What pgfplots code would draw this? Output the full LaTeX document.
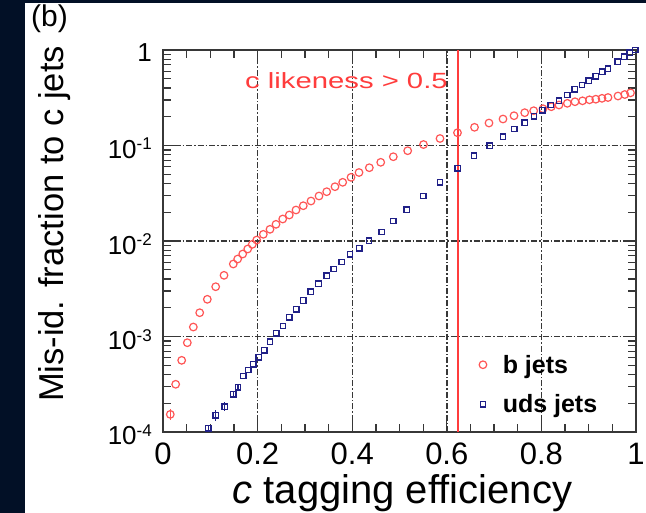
\documentclass[border=0pt]{standalone}
\usepackage{fontspec}
\setmainfont{Liberation Sans}
\usepackage{graphicx}
\usepackage{pgfplots}
\pgfplotsset{compat=1.18}

\definecolor{slidebg}{RGB}{2,16,38}
\definecolor{bjet}{RGB}{255,85,85}
\definecolor{udsjet}{RGB}{32,32,135}
\definecolor{cutline}{RGB}{255,60,60}
\definecolor{framegray}{RGB}{55,55,55}

\newcommand{\tensup}[1]{10\raisebox{8.5bp}{\fontsize{17bp}{17bp}\selectfont #1}}

\begin{document}
\begin{tikzpicture}
% slide background and white panel
\useasboundingbox (0,0) rectangle (646bp,513bp);
\fill[slidebg] (0,0) rectangle (646bp,513bp);
\fill[white] (25bp,0) rectangle (646bp,510bp);
\node[anchor=base west, inner sep=0pt, font=\fontsize{30bp}{32bp}\selectfont] at (31bp,486bp) {(b)};

\begin{axis}[
  at={(163bp,81bp)}, anchor=south west,
  width=473bp, height=382bp, scale only axis,
  xmin=0, xmax=1, ymin=1e-4, ymax=1,
  ymode=log, clip=false,
  axis line style={framegray, line width=1.6bp},
  every tick/.style={framegray, line width=1.3bp},
  tick align=inside,
  major tick length=13bp, minor tick length=8bp,
  xtick={0,0.2,0.4,0.6,0.8,1},
  xticklabels={0,0.2,0.4,0.6,0.8,1},
  minor xtick={0.05,0.1,0.15,0.25,0.3,0.35,0.45,0.5,0.55,0.65,0.7,0.75,0.85,0.9,0.95},
  ytick={1e-4,1e-3,1e-2,1e-1,1},
  yticklabels={\tensup{-4},\tensup{-3},\tensup{-2},\tensup{-1},1\hspace{9bp}},
  xticklabel style={font=\fontsize{31bp}{34bp}\selectfont, inner sep=0pt, yshift=-11bp},
  yticklabel style={font=\fontsize{26bp}{30bp}\selectfont, inner sep=0pt, xshift=-11bp, yshift=-3bp, anchor=east},
  grid=major,
  major grid style={black!78, line width=1.4bp, dash pattern=on 6bp off 2bp on 1.5bp off 2bp},
  xlabel={\textit{c} tagging efficiency},
  xlabel style={at={(axis description cs:0.506,-0.1866)}, anchor=base, inner sep=0pt,
    font=\fontsize{40bp}{44bp}\selectfont},
  ylabel={Mis-id. fraction to c jets},
  ylabel style={at={(axis description cs:-0.2114,0.5445)}, anchor=base, rotate=0, inner sep=0pt,
    font=\fontsize{34.5bp}{38bp}\selectfont},
  legend style={draw=none, fill=none, inner sep=0pt,
    at={(axis description cs:0.668,0.041)}, anchor=south west,
    font=\bfseries\fontsize{25bp}{28bp}\selectfont,
    row sep=16bp, column sep=14bp},
  legend cell align=left,
]

% b jets misidentified as c jets
\addplot[only marks, mark=o, color=bjet, mark size=3.8bp, line width=1.2bp,
  error bars/.cd, y dir=both, y explicit, error bar style={line width=1.1bp}, error mark=none]
coordinates {
(0.0154,1.53e-4) +- (0,0.2e-4)
(0.0268,3.16e-4) (0.0395,5.63e-4) (0.0514,8.61e-4) (0.0641,1.257e-3)
(0.0776,1.775e-3) (0.0937,2.452e-3) (0.1114,3.322e-3) (0.1290,4.373e-3)
(0.1486,5.745e-3) (0.1579,6.48e-3) (0.1685,7.31e-3) (0.1791,8.25e-3)
(0.1888,9.23e-3) (0.1981,1.024e-2) (0.2121,1.175e-2) (0.2262,1.326e-2)
(0.2389,1.496e-2) (0.2531,1.700e-2) (0.2670,1.872e-2) (0.2812,2.112e-2)
(0.2966,2.342e-2) (0.3129,2.623e-2) (0.3298,2.960e-2) (0.3461,3.283e-2)
(0.3636,3.704e-2) (0.3799,4.118e-2) (0.3975,4.645e-2) (0.4144,5.216e-2)
(0.4362,5.854e-2) (0.4603,6.67e-2) (0.4869,7.63e-2) (0.5173,8.82e-2)
(0.5507,0.1024) (0.5856,0.1184) (0.6226,0.1361) (0.6586,0.1551)
(0.6892,0.1720) (0.7188,0.1895) (0.7421,0.2051) (0.7647,0.2206)
(0.7837,0.2314) (0.8034,0.2428) (0.8209,0.2548) (0.8372,0.2655)
(0.8548,0.2766) (0.8710,0.2874) (0.8869,0.2938) (0.9017,0.3010)
(0.9150,0.3054) (0.9281,0.3120) (0.9408,0.3181) (0.9619,0.3298)
(0.9763,0.3420) (0.9884,0.3562)
};
\addlegendentry{b jets}

% light-flavour jets misidentified as c jets
\addplot[only marks, mark=square, color=udsjet, mark size=2.8bp, line width=1.3bp,
  error bars/.cd, y dir=both, y explicit, error bar style={line width=1.1bp}, error mark=none]
coordinates {
(0.0958,1.093e-4) +- (0,0.1e-4)
(0.1114,1.496e-4) +- (0,0.2e-4)
(0.1304,1.84e-4) +- (0,0.2e-4)
(0.1486,2.48e-4) +- (0,0.2e-4)
(0.1586,2.94e-4) +- (0,0.2e-4)
(0.1698,3.86e-4) (0.1803,4.46e-4) (0.1909,5.12e-4) (0.2023,6.07e-4)
(0.2140,7.18e-4) (0.2262,8.82e-4) (0.2395,1.080e-3) (0.2537,1.288e-3)
(0.2670,1.592e-3) (0.2818,1.926e-3) (0.2966,2.382e-3) (0.3125,2.944e-3)
(0.3288,3.571e-3) (0.3461,4.321e-3) (0.3609,5.09e-3) (0.3778,6.03e-3)
(0.3953,7.26e-3) (0.4150,8.39e-3) (0.4355,1.007e-2) (0.4624,1.243e-2)
(0.4869,1.620e-2) (0.5152,2.127e-2) (0.5503,2.960e-2) (0.5856,4.118e-2)
(0.6230,5.77e-2) (0.6575,7.82e-2) (0.6907,9.95e-2) (0.7188,0.1236)
(0.7427,0.1489) (0.7647,0.1733) (0.7844,0.2022) (0.8019,0.2337)
(0.8197,0.2655) (0.8372,0.2945) (0.8548,0.3379) (0.8704,0.3878)
(0.8858,0.4301) (0.9000,0.4771) (0.9148,0.5305) (0.9288,0.5927)
(0.9408,0.6372) (0.9613,0.7545) (0.9753,0.8506) (0.9867,0.9369)
(0.9985,1.0)
};
\addlegendentry{uds jets}

% working point of the c-likeness cut
\draw[cutline, line width=1.8bp] (axis cs:0.623,1e-4) -- (axis cs:0.623,1);
\node[anchor=base west, inner sep=0pt, text=cutline, font=\fontsize{22bp}{24bp}\selectfont]
  at (rel axis cs:0.1734,0.9005) {\scalebox{1.33}[1]{c likeness > 0.5}};
\end{axis}
\end{tikzpicture}
\end{document}
